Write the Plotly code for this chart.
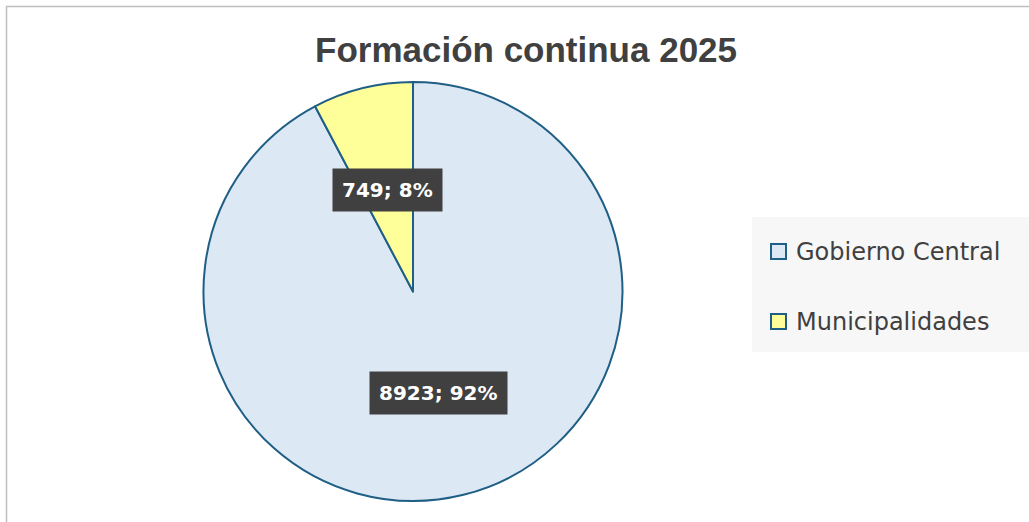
import math
import plotly.graph_objects as go

# ---- data ----
labels = ["Gobierno Central", "Municipalidades"]
values = [8923, 749]
colors = ["#DDE8F5", "#FFFF99"]
title_text = "Formación continua 2025"

W, H = 1029, 522
line_col = "#1F5F85"
text_col = "#404040"

# pie domain (paper)
dom_x = [203 / W, 623 / W]
dom_y = [21 / H, 440 / H]

total = sum(values)
pcts = [round(v / total * 100) for v in values]

fig = go.Figure()
fig.add_trace(go.Pie(
    labels=labels, values=values, sort=False, direction="clockwise", rotation=0,
    marker=dict(colors=colors, line=dict(color=line_col, width=2)),
    textinfo="none", hoverinfo="label+value+percent", showlegend=False,
    domain=dict(x=dom_x, y=dom_y),
))

# data labels placed at mid-angle of each slice, half radius
cx = (dom_x[0] + dom_x[1]) / 2
cy = (dom_y[0] + dom_y[1]) / 2
r_px = min((dom_x[1] - dom_x[0]) * W, (dom_y[1] - dom_y[0]) * H) / 2
annotations = []
cum = 0
for lab, v, p in zip(labels, values, pcts):
    mid = (cum + v / 2) / total * 2 * math.pi
    cum += v
    ax = cx + 0.5 * r_px * math.sin(mid) / W
    ay = cy + 0.5 * r_px * math.cos(mid) / H
    annotations.append(dict(
        x=ax, y=ay, xref="paper", yref="paper", showarrow=False,
        text=f"<b>{v}; {p}%</b>", xanchor="center", yanchor="middle",
        font=dict(family="DejaVu Sans", size=20, color="white"),
        bgcolor="#404040", borderpad=9,
    ))

# title
annotations.append(dict(
    x=525.5 / W, y=1 - 49 / H, xref="paper", yref="paper", showarrow=False,
    text=f"<b>{title_text}</b>", xanchor="center", yanchor="middle",
    font=dict(family="Liberation Sans, Arial", size=35, color=text_col),
))

shapes = [
    # chart border
    dict(type="rect", xref="paper", yref="paper",
         x0=6.5 / W, x1=1.05, y0=-0.05, y1=1 - 6.5 / H,
         line=dict(color="#BFBFBF", width=1.5), fillcolor="rgba(0,0,0,0)", layer="below"),
    # legend background
    dict(type="rect", xref="paper", yref="paper",
         x0=752 / W, x1=1.01, y0=1 - 352 / H, y1=1 - 217 / H,
         line=dict(width=0), fillcolor="#F7F7F7", layer="below"),
]

# manual legend
leg_y = [252, 322]
for lab, col, yy in zip(labels, colors, leg_y):
    shapes.append(dict(type="rect", xref="paper", yref="paper",
                       x0=771 / W, x1=786 / W, y0=1 - (yy + 7) / H, y1=1 - (yy - 8) / H,
                       line=dict(color=line_col, width=2), fillcolor=col))
    annotations.append(dict(
        x=794 / W, y=1 - yy / H, xref="paper", yref="paper", showarrow=False,
        text=lab, xanchor="left", yanchor="middle",
        font=dict(family="DejaVu Sans", size=24, color=text_col),
    ))

fig.update_layout(
    width=W, height=H, margin=dict(l=0, r=0, t=0, b=0),
    paper_bgcolor="white", plot_bgcolor="white",
    annotations=annotations, shapes=shapes, showlegend=False,
)

fig.write_html("out.html", config={"displayModeBar": False},
               post_script="document.body.style.margin='0';")
